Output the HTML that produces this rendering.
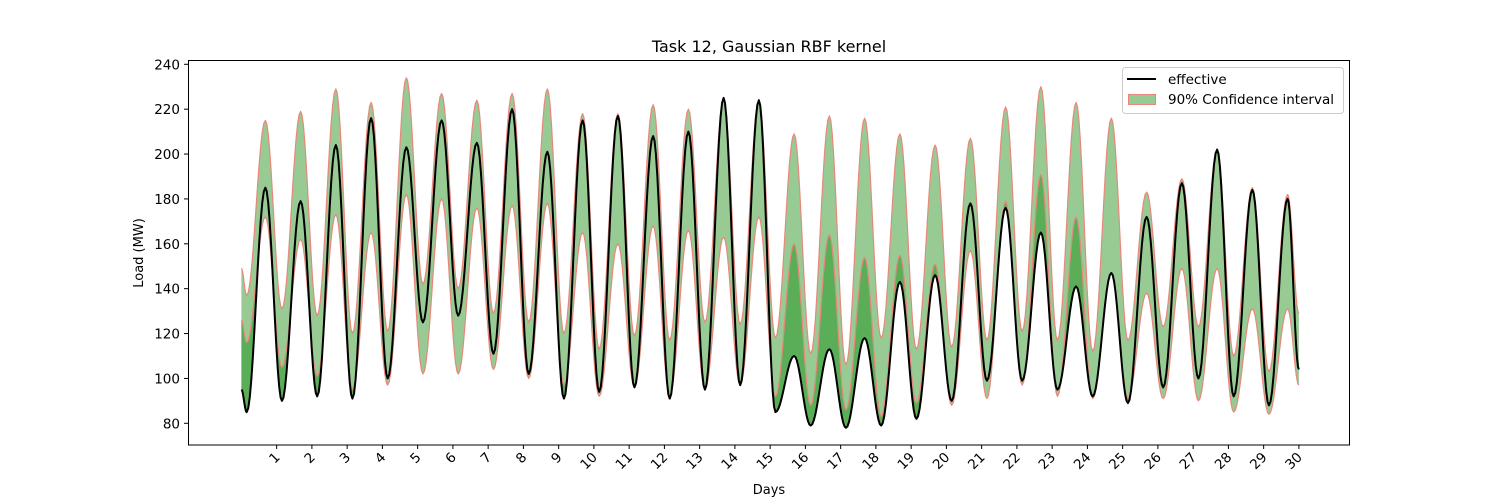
<!DOCTYPE html>
<html><head><meta charset="utf-8"><style>
body{margin:0;background:#fff}
svg{display:block;font-family:"DejaVu Sans","Liberation Sans",sans-serif}
</style></head><body>
<svg id="chart" width="1500" height="500" viewBox="0 0 1500 500" xmlns="http://www.w3.org/2000/svg">
<rect width="1500" height="500" fill="#fff"/>
<text x="769" y="52" font-size="16" text-anchor="middle">Task 12, Gaussian RBF kernel</text>
<g id="plot"></g>
<rect x="188.5" y="60.5" width="1161" height="384.5" fill="none" stroke="#000" stroke-width="1"/>
<g id="yticks"></g><g id="xticks"></g>
<text transform="translate(143,253) rotate(-90)" font-size="13" text-anchor="middle">Load (MW)</text>
<text x="769" y="494" font-size="13" text-anchor="middle">Days</text>
<g>
<rect x="1122.5" y="67.5" width="221" height="46" rx="3" fill="#fff" fill-opacity="0.8" stroke="#ccc"/>
<line x1="1127" y1="79" x2="1156" y2="79" stroke="#000" stroke-width="2"/>
<text x="1168" y="84" font-size="13.5">effective</text>
<rect x="1128.5" y="94.5" width="27" height="10" fill="#98ca94" stroke="#e8887c"/>
<text x="1168" y="104" font-size="13.5">90% Confidence interval</text>
</g>
</svg>
<script>
// values at each day's trough (~d+0.15) and peak (~d+0.68)
const effTrough=[85,90,92,91,100,125,128,111,102,91,94,96,91,95,97,85,79,78,79,82,90,99,99,95,92,89,96,100,92,88];
const effPeak=[185,179,204,216,203,215,205,220,201,215,217,208,210,225,224,110,113,118,143,146,178,176,165,141,147,172,187,202,184,180];
const upTrough=[137,131,128,120,121,142,140,129,125,120,113,119,117,125,124,118,111,106,118,113,114,117,121,117,112,117,123,123,110,103];
const upPeak=[215,219,229,223,234,227,224,227,229,218,218,222,220,224,224,209,217,216,209,204,207,221,230,223,216,183,189,202,185,182];
const loTrough=[116,105,101,95,97,102,102,104,100,97,92,96,92,95,97,92,88,86,83,89,88,91,97,92,91,91,91,90,85,84];
const loPeak=[172,162,173,165,182,180,176,177,178,165,160,168,166,163,172,160,164,154,155,151,157,179,191,172,147,138,149,149,131,131];
const startVals=[95,149,126]; // effective, upper, lower at day 0
const endVals=[104,129,97];   // at day 30
const yTicks=[80,100,120,140,160,180,200,220,240];
const xTicks=[1,2,3,4,5,6,7,8,9,10,11,12,13,14,15,16,17,18,19,20,21,22,23,24,25,26,27,28,29,30];

const X=d=>241.4+35.25*d;
const Y=v=>423.3-(v-80)*(359/160);
const NS="http://www.w3.org/2000/svg";

function series(tr,pk,s,e){
  const pts=[[0,s]];
  for(let i=0;i<tr.length;i++){pts.push([i+0.15,tr[i]]);pts.push([i+0.68,pk[i]]);}
  pts.push([30,e]);
  const out=[];
  for(let i=0;i<pts.length-1;i++){
    const [x0,y0]=pts[i],[x1,y1]=pts[i+1];
    const n=12;
    for(let k=0;k<n;k++){const t=k/n;const w=(1-Math.cos(Math.PI*t))/2;out.push([x0+(x1-x0)*t,y0+(y1-y0)*w]);}
  }
  out.push(pts[pts.length-1]);
  return out;
}
const E=series(effTrough,effPeak,startVals[0],endVals[0]);
const U=series(upTrough,upPeak,startVals[1],endVals[1]);
const L=series(loTrough,loPeak,startVals[2],endVals[2]);

const plot=document.getElementById('plot');
function path(d,fill,stroke,sw,name){
  const p=document.createElementNS(NS,'path');
  p.setAttribute('d',d);p.setAttribute('fill',fill);p.setAttribute('stroke',stroke);
  if(sw)p.setAttribute('stroke-width',sw);
  p.setAttribute('stroke-linejoin','round');
  
  
  plot.appendChild(p);return p;
}
const pl=a=>a.map((p,i)=>(i?'L':'M')+X(p[0]).toFixed(2)+','+Y(p[1]).toFixed(2)).join('');
const lowEnv=L.map((p,i)=>[p[0],Math.min(p[1],E[i][1])]);
// light band: upper down to min(lower, effective)
path(pl(U)+pl(lowEnv.slice().reverse()).replace('M','L')+'Z','#98ca94','none',0,'confidence-band');
// dark overlap: where effective is below lower bound
path(pl(L)+pl(lowEnv.slice().reverse()).replace('M','L')+'Z','#5bae58','none',0,'overlap-band');
path(pl(U),'none','#e8887c',1.2,'upper-bound-line');
path(pl(L),'none','#e8887c',1.2,'lower-bound-line');
path(pl(E),'none','#000',2,'effective-line');

const yg=document.getElementById('yticks');
yTicks.forEach(v=>{
  const l=document.createElementNS(NS,'line');
  l.setAttribute('x1',184);l.setAttribute('x2',188);l.setAttribute('y1',Y(v));l.setAttribute('y2',Y(v));l.setAttribute('stroke','#000');
  
  
  yg.appendChild(l);
  const t=document.createElementNS(NS,'text');
  t.setAttribute('x',180);t.setAttribute('y',Y(v)+5);t.setAttribute('font-size','13.5');t.setAttribute('text-anchor','end');
  t.textContent=v;
  
  
  yg.appendChild(t);
});
const xg=document.getElementById('xticks');
xTicks.forEach(d=>{
  const l=document.createElementNS(NS,'line');
  l.setAttribute('x1',X(d));l.setAttribute('x2',X(d));l.setAttribute('y1',445);l.setAttribute('y2',449);l.setAttribute('stroke','#000');
  
  
  xg.appendChild(l);
  const t=document.createElementNS(NS,'text');
  t.setAttribute('transform','translate('+(X(d)+4)+',458) rotate(-45)');
  t.setAttribute('font-size','13.5');t.setAttribute('text-anchor','end');
  t.textContent=d;
  
  
  xg.appendChild(t);
});
</script>
</body></html>
